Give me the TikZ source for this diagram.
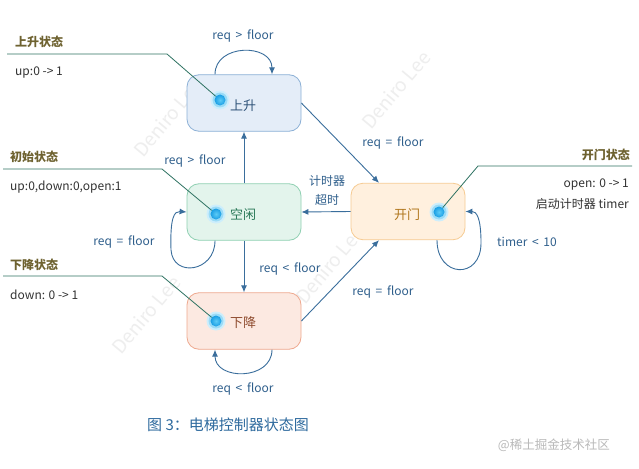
\documentclass[tikz,border=0pt]{standalone}
\usepackage{fontspec}
\setmainfont{Noto Sans CJK SC}
\usetikzlibrary{arrows.meta,shapes.geometric}
\definecolor{conn}{HTML}{3A6E9C}
\definecolor{lbl}{HTML}{2F5F8C}
\definecolor{annline}{HTML}{2E7262}
\definecolor{anntitle}{HTML}{6E6230}
\definecolor{anntext}{HTML}{333333}
\definecolor{wm}{HTML}{EEEEEE}
\definecolor{dotin}{HTML}{5CCBF6}
\definecolor{dotout}{HTML}{1A9EE4}
\definecolor{glowa}{HTML}{CDEEFC}
\definecolor{glowb}{HTML}{9ADBF7}
\tikzset{
  statebox/.style={draw, rounded corners=12pt, minimum width=114pt, minimum height=56.5pt, line width=0.8pt},
  conn/.style={draw=conn, line width=0.9pt, -{Latex[length=7pt,width=6pt]}},
  lbltext/.style={text=lbl, font=\fontsize{12}{14}\selectfont, inner sep=0pt},
  anntitle/.style={text=anntitle, font=\fontsize{12}{14}\selectfont\bfseries, inner sep=0pt},
  anntext/.style={text=anntext, font=\fontsize{12}{14}\selectfont, inner sep=0pt},
  annline/.style={draw=annline, line width=0.8pt},
  statetext/.style={font=\fontsize{13}{15}\selectfont, inner sep=0pt},
  dot/.style={circle, inner sep=0pt, minimum size=11pt, inner color=dotin, outer color=dotout, draw=none},
  watermark/.style={text=wm, font=\fontsize{19}{21}\selectfont, rotate=50, inner sep=0pt},
}
\begin{document}
\begin{tikzpicture}[x=1pt,y=-1pt]
\useasboundingbox[fill=white] (0,0) rectangle (639,468);
% watermarks
\node[watermark] (wm1) at (168,118) {Deniro Lee};
\node[watermark] (wm2) at (396,90) {Deniro Lee};
\node[watermark] (wm3) at (330,265) {Deniro Lee};
\node[watermark] (wm4) at (146,315) {Deniro Lee};
% states
\node[statebox, fill={rgb,255:red,228;green,237;blue,248}, draw={rgb,255:red,140;green,176;blue,214}] (up) at (244,103) {};
\node[statebox, fill={rgb,255:red,227;green,244;blue,236}, draw={rgb,255:red,143;green,208;blue,178}] (idle) at (244,212) {};
\node[statebox, fill={rgb,255:red,255;green,240;blue,222}, draw={rgb,255:red,246;green,203;blue,146}] (open) at (408,211.5) {};
\node[statebox, fill={rgb,255:red,252;green,233;blue,225}, draw={rgb,255:red,238;green,168;blue,142}] (down) at (244,321) {};
% state texts
\node[statetext, text={rgb,255:red,47;green,83;blue,121}] (uptext) at (243,106) {上升};
\node[statetext, text={rgb,255:red,44;green,122;blue,90}] (idletext) at (243,215) {空闲};
\node[statetext, text={rgb,255:red,176;green,118;blue,28}] (opentext) at (407,215) {开门};
\node[statetext, text={rgb,255:red,142;green,75;blue,46}] (downtext) at (243,323) {下降};
% glow dots
\foreach \n/\x/\y in {updot/220/100, idledot/216/214, opendot/439/212, downdot/216/321}{
  \fill[glowa] (\x,\y) circle (9.5pt);
  \fill[glowb] (\x,\y) circle (7.5pt);
  \node[dot] (\n) at (\x,\y) {};
}
% connectors
\draw[conn] ([xshift=-29pt]up.north) .. controls +(0,-31) and +(0,-31) .. ([xshift=28pt]up.north);
\draw[conn] (idle.north) -- (up.south);
\draw[conn] (up.east) -- ([xshift=-29pt]open.north);
\draw[conn] (open.west) -- (idle.east);
\draw[conn] ([xshift=-29pt]idle.south) .. controls (215,272) and (173,278) .. (171,250) .. controls (170,218) and (174,211) .. (idle.west);
\draw[conn] (idle.south) -- (down.north);
\draw[conn] (down.east) -- ([xshift=-29pt]open.south);
\draw[conn] ([xshift=28pt]down.south) .. controls +(0,31) and +(0,31) .. ([xshift=-29pt]down.south);
\draw[conn] ([xshift=29pt]open.south) .. controls (437,278) and (481,280) .. (481,243) .. controls (481,216) and (476,211.5) .. (open.east);
% connector labels
\node[lbltext] (l1) at (243,36) {req \,>\, floor};
\node[lbltext] (l2) at (195,161) {req \,>\, floor};
\node[lbltext] (l3) at (393,143) {req \,=\, floor};
\node[lbltext] (l4) at (327,181) {计时器};
\node[lbltext] (l5) at (327,200) {超时};
\node[lbltext] (l6) at (124,242) {req \,=\, floor};
\node[lbltext] (l7) at (290,269) {req \,<\, floor};
\node[lbltext] (l8) at (383,292) {req \,=\, floor};
\node[lbltext] (l9) at (243,389) {req \,<\, floor};
\node[lbltext] (l10) at (527,242) {timer \,<\, 10};
% annotations
\node[anntitle, anchor=west] (a1) at (15,42) {上升状态};
\coordinate (a1s) at (7,54);
\coordinate (a1c) at (167,54);
\draw[annline] (a1s) -- (a1c) -- (updot);
\node[anntext, anchor=west] (a1t) at (15,73) {up:0 -> 1};

\node[anntitle, anchor=west] (a2) at (10,157) {初始状态};
\coordinate (a2s) at (3,169);
\coordinate (a2c) at (162,169);
\draw[annline] (a2s) -- (a2c) -- (idledot);
\node[anntext, anchor=west] (a2t) at (10,187) {up:0,down:0,open:1};

\node[anntitle, anchor=west] (a3) at (10,265) {下降状态};
\coordinate (a3s) at (3,276);
\coordinate (a3c) at (162,276);
\draw[annline] (a3s) -- (a3c) -- (downdot);
\node[anntext, anchor=west] (a3t) at (10,295) {down: 0 -> 1};

\node[anntitle, anchor=east] (a4) at (630,155) {开门状态};
\coordinate (a4s) at (632,166);
\coordinate (a4c) at (478,166);
\draw[annline] (a4s) -- (a4c) -- (opendot);
\node[anntext, anchor=east] (a4t) at (629,185) {open: 0 -> 1};
\node[anntext, anchor=east] (a4u) at (629,204) {启动计时器 timer};
% caption
\node[text={rgb,255:red,46;green,106;blue,158}, font=\fontsize{15}{17}\selectfont, anchor=west, inner sep=0pt] (cap) at (147,425) {图 3：电梯控制器状态图};
\node[text={rgb,255:red,185;green,185;blue,185}, font=\fontsize{12.5}{14}\selectfont, anchor=east, inner sep=0pt] (wmk) at (610,445) {@稀土掘金技术社区};
\end{tikzpicture}
\end{document}
